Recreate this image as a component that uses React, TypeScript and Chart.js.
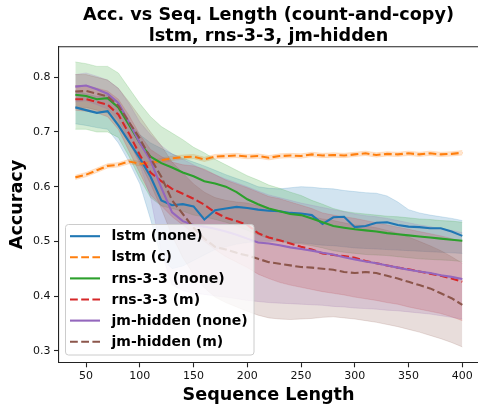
import React, { useEffect, useRef } from "react";
import { Chart, registerables } from "chart.js";

Chart.register(...registerables);

const TITLE = ["Acc. vs Seq. Length (count-and-copy)", "lstm, rns-3-3, jm-hidden"];
const X_LABEL = "Sequence Length";
const Y_LABEL = "Accuracy";
const X_TICKS = [50, 100, 150, 200, 250, 300, 350, 400];
const Y_TICKS = [0.3, 0.4, 0.5, 0.6, 0.7, 0.8];

const X = [40, 50, 60, 70, 80, 90, 100, 110, 120, 130, 140, 150, 160, 170, 180, 190, 200, 210, 220, 230, 240, 250, 260, 270, 280, 290, 300, 310, 320, 330, 340, 350, 360, 370, 380, 390, 400];

const LSTM_NONE = [0.745, 0.740, 0.735, 0.738, 0.712, 0.682, 0.652, 0.618, 0.575, 0.566, 0.568, 0.564, 0.540, 0.557, 0.560, 0.563, 0.561, 0.558, 0.556, 0.555, 0.552, 0.551, 0.548, 0.532, 0.544, 0.545, 0.526, 0.528, 0.534, 0.535, 0.530, 0.527, 0.526, 0.524, 0.524, 0.518, 0.510];
const LSTM_NONE_LO = [0.715, 0.712, 0.708, 0.705, 0.680, 0.645, 0.605, 0.540, 0.470, 0.450, 0.455, 0.465, 0.475, 0.485, 0.490, 0.495, 0.498, 0.500, 0.500, 0.500, 0.498, 0.497, 0.495, 0.493, 0.492, 0.490, 0.488, 0.487, 0.486, 0.485, 0.484, 0.483, 0.482, 0.481, 0.480, 0.479, 0.478];
const LSTM_NONE_HI = [0.775, 0.770, 0.765, 0.768, 0.745, 0.718, 0.695, 0.680, 0.670, 0.660, 0.652, 0.645, 0.638, 0.630, 0.622, 0.615, 0.608, 0.600, 0.597, 0.596, 0.598, 0.600, 0.599, 0.597, 0.596, 0.593, 0.591, 0.589, 0.588, 0.583, 0.572, 0.558, 0.552, 0.548, 0.545, 0.542, 0.538];

const LSTM_C = [0.617, 0.622, 0.630, 0.638, 0.640, 0.646, 0.642, 0.643, 0.648, 0.652, 0.654, 0.655, 0.650, 0.655, 0.656, 0.657, 0.655, 0.656, 0.653, 0.656, 0.657, 0.656, 0.659, 0.657, 0.658, 0.657, 0.659, 0.661, 0.658, 0.660, 0.659, 0.661, 0.659, 0.661, 0.659, 0.660, 0.662];
const LSTM_C_LO = [0.613, 0.618, 0.626, 0.634, 0.636, 0.642, 0.638, 0.639, 0.644, 0.648, 0.650, 0.651, 0.646, 0.651, 0.652, 0.653, 0.651, 0.652, 0.649, 0.652, 0.653, 0.652, 0.655, 0.653, 0.654, 0.653, 0.655, 0.657, 0.654, 0.656, 0.655, 0.657, 0.655, 0.657, 0.655, 0.656, 0.658];
const LSTM_C_HI = [0.621, 0.626, 0.634, 0.642, 0.644, 0.650, 0.646, 0.647, 0.652, 0.656, 0.658, 0.659, 0.654, 0.659, 0.660, 0.661, 0.659, 0.660, 0.657, 0.660, 0.661, 0.660, 0.663, 0.661, 0.662, 0.661, 0.663, 0.665, 0.662, 0.664, 0.663, 0.665, 0.663, 0.665, 0.663, 0.664, 0.666];

const RNS_NONE = [0.768, 0.766, 0.760, 0.762, 0.745, 0.713, 0.680, 0.655, 0.643, 0.635, 0.626, 0.619, 0.610, 0.606, 0.600, 0.590, 0.577, 0.568, 0.560, 0.555, 0.550, 0.548, 0.542, 0.535, 0.528, 0.525, 0.522, 0.520, 0.518, 0.515, 0.513, 0.511, 0.509, 0.507, 0.505, 0.503, 0.501];
const RNS_NONE_LO = [0.705, 0.705, 0.700, 0.700, 0.690, 0.655, 0.615, 0.580, 0.565, 0.560, 0.555, 0.548, 0.545, 0.540, 0.535, 0.528, 0.520, 0.512, 0.505, 0.500, 0.497, 0.495, 0.492, 0.488, 0.483, 0.480, 0.478, 0.476, 0.475, 0.474, 0.472, 0.470, 0.468, 0.467, 0.466, 0.465, 0.463];
const RNS_NONE_HI = [0.828, 0.825, 0.820, 0.820, 0.808, 0.780, 0.752, 0.728, 0.710, 0.698, 0.686, 0.672, 0.662, 0.650, 0.640, 0.630, 0.620, 0.612, 0.603, 0.597, 0.590, 0.584, 0.575, 0.568, 0.560, 0.555, 0.552, 0.550, 0.548, 0.546, 0.545, 0.543, 0.541, 0.540, 0.538, 0.537, 0.535];

const RNS_M = [0.760, 0.760, 0.755, 0.750, 0.732, 0.697, 0.658, 0.626, 0.610, 0.596, 0.587, 0.578, 0.567, 0.553, 0.543, 0.537, 0.530, 0.515, 0.507, 0.502, 0.496, 0.490, 0.485, 0.478, 0.475, 0.473, 0.470, 0.464, 0.460, 0.456, 0.452, 0.449, 0.445, 0.441, 0.437, 0.432, 0.426];
const RNS_M_LO = [0.740, 0.738, 0.735, 0.728, 0.705, 0.665, 0.625, 0.585, 0.565, 0.545, 0.530, 0.515, 0.500, 0.485, 0.472, 0.462, 0.452, 0.440, 0.432, 0.425, 0.420, 0.416, 0.412, 0.408, 0.405, 0.402, 0.398, 0.395, 0.392, 0.388, 0.385, 0.380, 0.376, 0.372, 0.368, 0.362, 0.355];
const RNS_M_HI = [0.785, 0.785, 0.780, 0.775, 0.760, 0.730, 0.695, 0.668, 0.655, 0.645, 0.640, 0.638, 0.632, 0.622, 0.612, 0.605, 0.598, 0.590, 0.582, 0.578, 0.572, 0.566, 0.560, 0.552, 0.548, 0.545, 0.542, 0.538, 0.534, 0.530, 0.526, 0.522, 0.518, 0.514, 0.510, 0.505, 0.500];

const JM_NONE = [0.783, 0.785, 0.778, 0.770, 0.753, 0.718, 0.680, 0.648, 0.598, 0.553, 0.537, 0.530, 0.527, 0.523, 0.518, 0.512, 0.505, 0.498, 0.496, 0.493, 0.489, 0.486, 0.483, 0.479, 0.476, 0.471, 0.467, 0.463, 0.460, 0.456, 0.452, 0.448, 0.445, 0.442, 0.438, 0.435, 0.431];
const JM_NONE_LO = [0.755, 0.757, 0.750, 0.742, 0.722, 0.685, 0.640, 0.580, 0.480, 0.420, 0.410, 0.405, 0.403, 0.400, 0.398, 0.395, 0.392, 0.390, 0.388, 0.387, 0.386, 0.385, 0.384, 0.383, 0.381, 0.380, 0.378, 0.377, 0.376, 0.374, 0.373, 0.371, 0.369, 0.367, 0.364, 0.361, 0.358];
const JM_NONE_HI = [0.805, 0.808, 0.802, 0.795, 0.780, 0.752, 0.718, 0.695, 0.675, 0.660, 0.650, 0.640, 0.630, 0.622, 0.614, 0.607, 0.600, 0.592, 0.585, 0.580, 0.575, 0.570, 0.566, 0.562, 0.558, 0.554, 0.550, 0.547, 0.545, 0.542, 0.538, 0.534, 0.530, 0.527, 0.523, 0.520, 0.516];

const JM_M = [0.774, 0.775, 0.770, 0.765, 0.748, 0.718, 0.688, 0.652, 0.618, 0.575, 0.550, 0.525, 0.505, 0.490, 0.485, 0.479, 0.474, 0.468, 0.462, 0.459, 0.456, 0.453, 0.452, 0.450, 0.448, 0.444, 0.442, 0.444, 0.442, 0.437, 0.432, 0.426, 0.420, 0.414, 0.405, 0.396, 0.384];
const JM_M_LO = [0.745, 0.745, 0.740, 0.735, 0.715, 0.680, 0.645, 0.605, 0.560, 0.510, 0.470, 0.440, 0.415, 0.398, 0.388, 0.380, 0.372, 0.365, 0.360, 0.358, 0.357, 0.358, 0.359, 0.361, 0.362, 0.360, 0.358, 0.355, 0.352, 0.348, 0.344, 0.339, 0.334, 0.328, 0.322, 0.315, 0.307];
const JM_M_HI = [0.805, 0.805, 0.800, 0.795, 0.780, 0.755, 0.728, 0.700, 0.675, 0.645, 0.625, 0.605, 0.590, 0.580, 0.575, 0.572, 0.570, 0.565, 0.560, 0.556, 0.552, 0.548, 0.545, 0.541, 0.538, 0.534, 0.530, 0.528, 0.525, 0.520, 0.515, 0.508, 0.500, 0.492, 0.483, 0.472, 0.460];

const LABELS = ["lstm (none)", "lstm (c)", "rns-3-3 (none)", "rns-3-3 (m)", "jm-hidden (none)", "jm-hidden (m)"];
const RGB = ["31,119,180", "255,127,14", "44,160,44", "214,39,40", "148,103,189", "140,86,75"];
const DASHED = [false, true, false, true, false, true];
const MEANS = [LSTM_NONE, LSTM_C, RNS_NONE, RNS_M, JM_NONE, JM_M];
const LOWS = [LSTM_NONE_LO, LSTM_C_LO, RNS_NONE_LO, RNS_M_LO, JM_NONE_LO, JM_M_LO];
const HIGHS = [LSTM_NONE_HI, LSTM_C_HI, RNS_NONE_HI, RNS_M_HI, JM_NONE_HI, JM_M_HI];

const FONT = '"DejaVu Sans", sans-serif';
const LW = 2.1;
const DASH = [7.8, 3.4];

export default function App() {
  const ref = useRef<HTMLCanvasElement>(null);

  useEffect(() => {
    const canvas = ref.current;
    if (!canvas) return;
    const pts = (ys: number[]) => X.map((x, i) => ({ x, y: ys[i] }));
    const datasets: any[] = [];
    LABELS.forEach((label, k) => {
      datasets.push({
        label,
        data: pts(MEANS[k]),
        borderColor: `rgb(${RGB[k]})`,
        borderWidth: LW,
        borderDash: DASHED[k] ? DASH : [],
        pointRadius: 0,
        fill: false,
        tension: 0,
        order: 10 - k,
      });
    });
    LABELS.forEach((label, k) => {
      const hiIdx = datasets.length;
      datasets.push({
        label: label + " hi",
        data: pts(HIGHS[k]),
        borderColor: `rgba(${RGB[k]},0.22)`,
        borderWidth: 0.8,
        pointRadius: 0,
        fill: false,
        order: 100 - k * 2,
      });
      datasets.push({
        label: label + " lo",
        data: pts(LOWS[k]),
        borderColor: `rgba(${RGB[k]},0.22)`,
        backgroundColor: `rgba(${RGB[k]},0.2)`,
        borderWidth: 0.8,
        pointRadius: 0,
        fill: hiIdx,
        order: 99 - k * 2,
      });
    });

    const overlay = {
      id: "overlay",
      afterDraw(chart: any) {
        const c = chart.ctx as CanvasRenderingContext2D;
        const a = chart.chartArea;
        c.save();
        c.strokeStyle = "#222";
        c.lineWidth = 1.1;
        c.beginPath();
        c.moveTo(a.left, a.top);
        c.lineTo(a.right, a.top);
        c.stroke();

        c.fillStyle = "#000";
        c.textAlign = "center";
        c.textBaseline = "alphabetic";
        c.font = `bold 17.6px ${FONT}`;
        const cx = (a.left + a.right) / 2;
        c.fillText(TITLE[0], cx, 20);
        c.fillText(TITLE[1], cx, 40.7);
        c.fillText(X_LABEL, cx, 400);
        c.save();
        c.translate(22, (a.top + a.bottom) / 2);
        c.rotate(-Math.PI / 2);
        c.fillText(Y_LABEL, 0, 0);
        c.restore();

        // legend
        const lx = 65.5, ly = 224.5, lw = 188.5, lh = 130.5, r = 3;
        c.beginPath();
        c.moveTo(lx + r, ly);
        c.lineTo(lx + lw - r, ly);
        c.quadraticCurveTo(lx + lw, ly, lx + lw, ly + r);
        c.lineTo(lx + lw, ly + lh - r);
        c.quadraticCurveTo(lx + lw, ly + lh, lx + lw - r, ly + lh);
        c.lineTo(lx + r, ly + lh);
        c.quadraticCurveTo(lx, ly + lh, lx, ly + lh - r);
        c.lineTo(lx, ly + r);
        c.quadraticCurveTo(lx, ly, lx + r, ly);
        c.closePath();
        c.fillStyle = "rgba(255,255,255,0.8)";
        c.fill();
        c.strokeStyle = "#cccccc";
        c.lineWidth = 1;
        c.stroke();

        c.font = `bold 14px ${FONT}`;
        c.textAlign = "left";
        c.textBaseline = "middle";
        LABELS.forEach((label, k) => {
          const y = 236.2 + k * 21.1;
          c.strokeStyle = `rgb(${RGB[k]})`;
          c.lineWidth = LW;
          c.setLineDash(DASHED[k] ? DASH : []);
          c.beginPath();
          c.moveTo(70, y);
          c.lineTo(100, y);
          c.stroke();
          c.setLineDash([]);
          c.fillStyle = "#000";
          c.fillText(label, 111.5, y + 0.5);
        });
        c.restore();
      },
    };

    const chart = new Chart(canvas, {
      type: "line",
      data: { datasets },
      plugins: [overlay],
      options: {
        animation: false,
        responsive: false,
        devicePixelRatio: 1,
        layout: { padding: { top: 46.7, right: 0, left: 0, bottom: 0 } },
        plugins: {
          legend: { display: false },
          tooltip: { enabled: false },
          title: { display: false },
        },
        scales: {
          x: {
            type: "linear",
            min: 24.8,
            max: 414.6,
            afterBuildTicks: (s: any) => {
              s.ticks = X_TICKS.map((v) => ({ value: v }));
            },
            afterFit: (s: any) => {
              s.height = 46.7;
            },
            grid: { drawOnChartArea: false, drawTicks: true, tickLength: 5, tickColor: "#222", tickWidth: 1.1 },
            border: { display: true, color: "#222", width: 1.1 },
            ticks: {
              font: { family: FONT, size: 11 },
              color: "#111",
              padding: 2,
              maxRotation: 0,
              autoSkip: false,
              callback: (v: any) => String(v),
            },
          },
          y: {
            type: "linear",
            min: 0.2788,
            max: 0.856,
            afterBuildTicks: (s: any) => {
              s.ticks = Y_TICKS.map((v) => ({ value: v }));
            },
            afterFit: (s: any) => {
              s.width = 59;
            },
            grid: { drawOnChartArea: false, drawTicks: true, tickLength: 5, tickColor: "#222", tickWidth: 1.1 },
            border: { display: true, color: "#222", width: 1.1 },
            ticks: {
              font: { family: FONT, size: 11 },
              color: "#111",
              padding: 3.5,
              autoSkip: false,
              callback: (v: any) => Number(v).toFixed(1),
            },
          },
        },
      } as any,
    });
    return () => chart.destroy();
  }, []);

  return (
    <div style={{ position: "fixed", left: 0, top: 0, width: 478, height: 409, overflow: "hidden", background: "#fff" }}>
      <canvas ref={ref} width={478} height={409} style={{ width: 478, height: 409, display: "block" }} />
    </div>
  );
}
